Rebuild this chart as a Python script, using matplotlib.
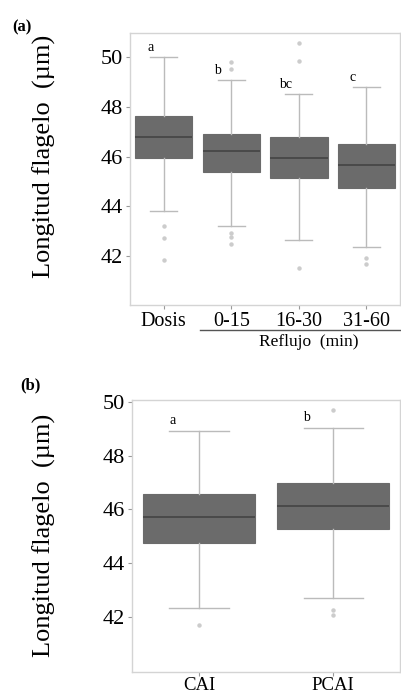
import matplotlib
matplotlib.use("Agg")
import matplotlib.pyplot as plt

plt.rcParams["font.family"] = ["Liberation Serif", "DejaVu Serif"]

# Panel (a): dosis y reflujo
grupos_a = ["Dosis", "0-15", "16-30", "31-60"]
letras_a = ["a", "b", "bc", "c"]
q1_a = [45.92, 45.36, 45.12, 44.73]
med_a = [46.79, 46.23, 45.92, 45.65]
q3_a = [47.65, 46.89, 46.79, 46.51]
wlo_a = [43.81, 43.18, 42.64, 42.34]
whi_a = [50.0, 49.09, 48.52, 48.82]
out_a = [[43.18, 42.70, 41.83],
         [49.80, 49.52, 42.90, 42.75, 42.48],
         [50.59, 49.85, 41.49],
         [41.91, 41.64]]

# Panel (b): CAI vs PCAI
grupos_b = ["CAI", "PCAI"]
letras_b = ["a", "b"]
q1_b = [44.76, 45.26]
med_b = [45.72, 46.13]
q3_b = [46.57, 46.99]
wlo_b = [42.34, 42.69]
whi_b = [48.91, 49.03]
out_b = [[41.70], [49.72, 42.26, 42.07]]

BOX = "#6b6b6b"
LINE = "#bbbbbb"


def caja(ax, q1, med, q3, wlo, whi, out, ancho, cap):
    stats = []
    for i in range(len(q1)):
        stats.append(dict(q1=q1[i], med=med[i], q3=q3[i],
                          whislo=wlo[i], whishi=whi[i], fliers=out[i]))
    ax.bxp(stats, positions=range(1, len(q1) + 1), widths=ancho,
           patch_artist=True, capwidths=cap,
           boxprops=dict(facecolor=BOX, edgecolor=BOX, linewidth=0.8),
           medianprops=dict(color="#444444", linewidth=1.2),
           whiskerprops=dict(color=LINE, linewidth=1.0),
           capprops=dict(color=LINE, linewidth=1.0),
           flierprops=dict(marker="o", markersize=2.2, markerfacecolor="#cccccc",
                           markeredgecolor="#cccccc"))
    ax.set_xticks(range(1, len(q1) + 1))
    for s in ax.spines.values():
        s.set_color("#d4d4d4")
        s.set_linewidth(1.0)
    ax.tick_params(axis="both", colors="#999999", length=3, width=0.8,
                   labelsize=16, labelcolor="black", pad=2)
    ax.set_yticks([42, 44, 46, 48, 50])
    ax.set_ylabel("Longitud flagelo  (µm)", fontsize=19)


fig = plt.figure(figsize=(4.01, 6.95), dpi=100)

ax1 = fig.add_axes([0.324, 0.561, 0.674, 0.392])
caja(ax1, q1_a, med_a, q3_a, wlo_a, whi_a, out_a, 0.85, 0.4)
ax1.set_xlim(0.5, 4.5)
ax1.set_ylim(40.0, 51.0)
ax1.set_xticklabels(grupos_a, fontsize=14.5)
ax1.yaxis.set_label_coords(-0.272, 0.545)
for i, t in enumerate(letras_a):
    ax1.text(i + 1 - 0.2, whi_a[i] + 0.12, t, fontsize=10,
             ha="center", va="bottom")
fig.text(0.03, 0.955, "(a)", fontsize=12, fontweight="bold")
fig.add_artist(plt.Line2D([0.498, 0.998], [0.525, 0.525], color="#555555",
                          linewidth=1.0))
fig.text(0.77, 0.508, "Reflujo  (min)", fontsize=12.5, ha="center", va="center")

ax2 = fig.add_axes([0.329, 0.0335, 0.669, 0.391])
caja(ax2, q1_b, med_b, q3_b, wlo_b, whi_b, out_b, 0.84, 0.44)
ax2.set_xlim(0.5, 2.5)
ax2.set_ylim(39.95, 50.08)
ax2.set_xticklabels(grupos_b, fontsize=13.5)
ax2.tick_params(axis="x", pad=1)
ax2.yaxis.set_label_coords(-0.282, 0.5)
for i, t in enumerate(letras_b):
    ax2.text(i + 1 - 0.2, whi_b[i] + 0.15, t, fontsize=10,
             ha="center", va="bottom")
fig.text(0.05, 0.44, "(b)", fontsize=12, fontweight="bold")

fig.savefig("out.png", dpi=100)
